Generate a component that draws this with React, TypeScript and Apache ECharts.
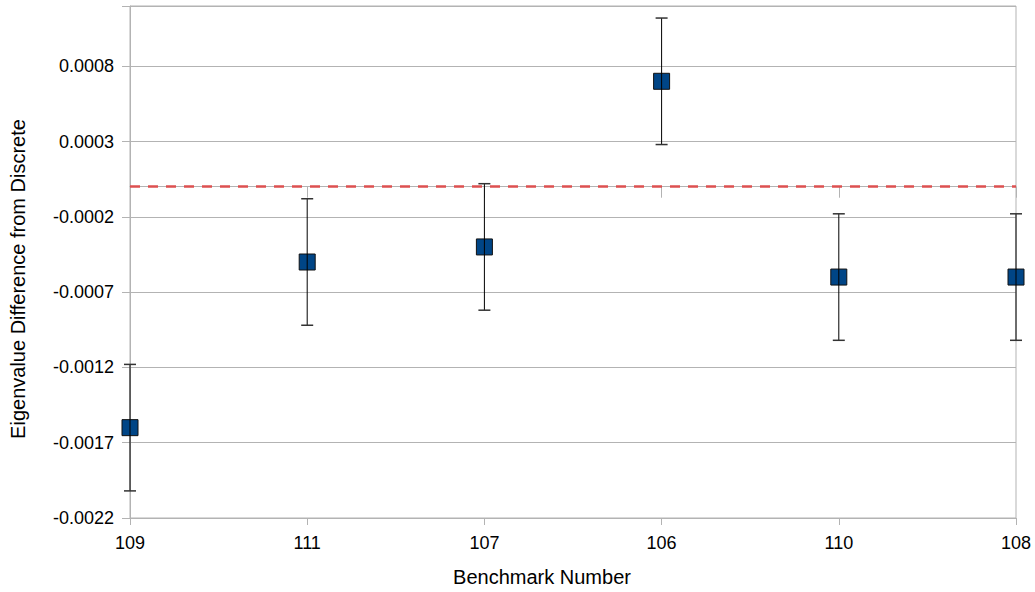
import React, { useEffect, useRef } from "react";
import * as echarts from "echarts";

const categories = ["109", "111", "107", "106", "110", "108"];
const values = [-0.0016, -0.0005, -0.0004, 0.0007, -0.0006, -0.0006];
const errors = [0.00042, 0.00042, 0.00042, 0.00042, 0.00042, 0.00042];
const referenceLine = 0;
const yMin = -0.0022;
const yMax = 0.0012;
const yStep = 0.0005;
const xTitle = "Benchmark Number";
const yTitle = "Eigenvalue Difference from Discrete";

const FONT = "'Liberation Sans', Arial, sans-serif";
const GRID = "#b3b3b3";

export default function App() {
  const ref = useRef<HTMLDivElement>(null);
  useEffect(() => {
    document.body.style.margin = "0";
    if (!ref.current) return;
    const chart = echarts.init(ref.current, null, { renderer: "svg" });
    const errData = values.map((v, i) => [i, v - errors[i], v + errors[i]]);
    chart.setOption({
      animation: false,
      textStyle: { fontFamily: FONT },
      grid: {
        left: 130,
        right: 19,
        top: 6,
        bottom: 74,
        show: true,
        borderColor: GRID,
        borderWidth: 1,
        outerBoundsMode: "none",
        containLabel: false,
      },
      graphic: [
        {
          type: "text",
          x: 542,
          y: 577,
          style: {
            text: xTitle,
            fontFamily: FONT,
            fontSize: 20,
            fill: "#000",
            textAlign: "center",
            textVerticalAlign: "middle",
          },
        },
        {
          type: "text",
          x: 18,
          y: 279,
          rotation: Math.PI / 2,
          style: {
            text: yTitle,
            fontFamily: FONT,
            fontSize: 20,
            fill: "#000",
            textAlign: "center",
            textVerticalAlign: "middle",
          },
        },
      ],
      xAxis: [
        {
          type: "category",
          data: categories,
          boundaryGap: false,
          axisLine: { show: true, onZero: true, lineStyle: { color: GRID, width: 1 } },
          axisTick: { show: true, length: 11, lineStyle: { color: GRID } },
          axisLabel: { show: false },
          splitLine: { show: false },
        },
        {
          type: "category",
          data: categories,
          boundaryGap: false,
          position: "bottom",
          axisLine: { show: false, onZero: false },
          axisTick: { show: true, length: 7, lineStyle: { color: GRID } },
          axisLabel: { show: true, fontSize: 18, color: "#000", margin: 16, fontFamily: FONT },
          splitLine: { show: false },
        },
      ],
      yAxis: {
        type: "value",
        min: yMin,
        max: yMax,
        interval: yStep,
        axisLine: { show: true, lineStyle: { color: GRID } },
        axisTick: { show: true, length: 8, lineStyle: { color: GRID } },
        axisLabel: {
          fontSize: 18,
          color: "#000",
          margin: 16,
          fontFamily: FONT,
          formatter: (v: number) => (v > yMax - yStep / 2 ? "" : v.toFixed(4)),
        },
        splitLine: { show: true, lineStyle: { color: GRID, width: 1 } },
      },
      series: [
        {
          type: "scatter",
          xAxisIndex: 0,
          data: values.map((v, i) => [i, v]),
          symbol: "rect",
          symbolSize: 16,
          itemStyle: { color: "#004586", borderColor: "#111", borderWidth: 1, opacity: 1 },
          z: 3,
          markLine: {
            silent: true,
            symbol: ["none", "none"],
            label: { show: false },
            lineStyle: { color: "#dd5050", width: 2.5, type: [10, 8] },
            data: [{ yAxis: referenceLine }],
          },
        },
        {
          type: "custom",
          xAxisIndex: 0,
          data: errData,
          z: 4,
          renderItem: (params: any, api: any) => {
            const x = api.value(0);
            const lo = api.coord([x, api.value(1)]);
            const hi = api.coord([x, api.value(2)]);
            const cap = 6;
            return {
              type: "group",
              children: [
                {
                  type: "line",
                  shape: { x1: lo[0], y1: lo[1], x2: hi[0], y2: hi[1] },
                  style: { stroke: "#000", lineWidth: 1 },
                },
                {
                  type: "line",
                  shape: { x1: hi[0] - cap, y1: hi[1], x2: hi[0] + cap, y2: hi[1] },
                  style: { stroke: "#333", lineWidth: 1.5 },
                },
                {
                  type: "line",
                  shape: { x1: lo[0] - cap, y1: lo[1], x2: lo[0] + cap, y2: lo[1] },
                  style: { stroke: "#333", lineWidth: 1.5 },
                },
              ],
            };
          },
        },
      ],
    });
    return () => chart.dispose();
  }, []);
  return <div ref={ref} style={{ width: 1035, height: 592 }} />;
}
